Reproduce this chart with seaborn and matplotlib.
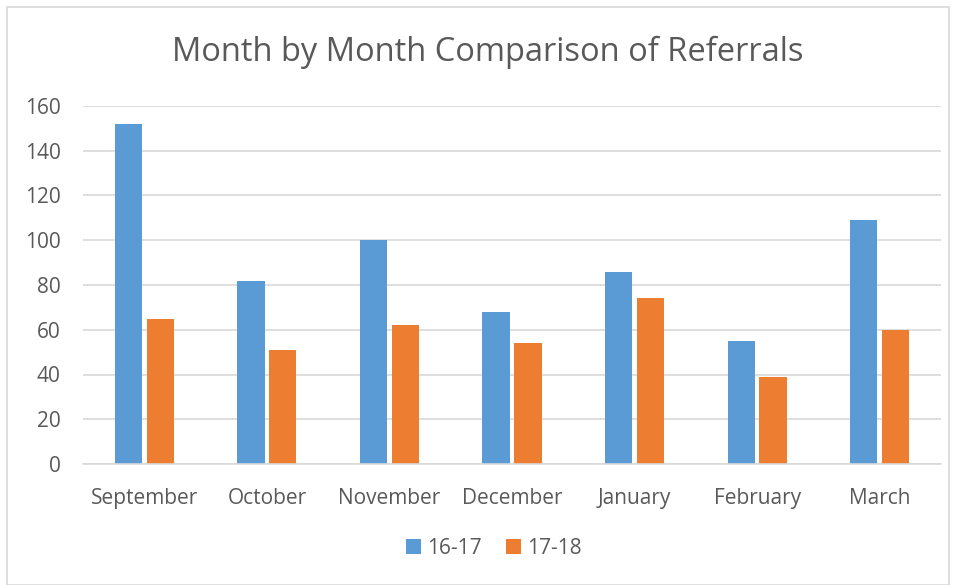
import matplotlib
matplotlib.use("Agg")
import matplotlib.pyplot as plt
import seaborn as sns
import pandas as pd
from matplotlib.patches import Rectangle

months = ["September", "October", "November", "December", "January", "February", "March"]
series_names = ["16-17", "17-18"]
values_1617 = [152, 82, 100, 68, 86, 55, 109]
values_1718 = [65, 51, 62, 54, 74, 39, 60]
y_ticks = [0, 20, 40, 60, 80, 100, 120, 140, 160]

df = pd.DataFrame({
    "Month": months * 2,
    "Season": [series_names[0]] * len(months) + [series_names[1]] * len(months),
    "Referrals": values_1617 + values_1718,
})

sns.set_theme(style="white")
plt.rcParams["font.family"] = ["Open Sans", "DejaVu Sans"]

W, H = 957, 585
fig = plt.figure(figsize=(W / 100, H / 100), dpi=100)
ax = fig.add_axes([83 / W, (H - 464) / H, (941 - 83) / W, (464 - 106) / H])

palette = {"16-17": "#5B9BD5", "17-18": "#ED7D31"}
sns.barplot(data=df, x="Month", y="Referrals", hue="Season", order=months,
            hue_order=series_names, palette=palette, width=0.52, gap=0.14,
            saturation=1, linewidth=0, ax=ax, legend=True)

ax.set_ylim(0, 160)
ax.set_yticks(y_ticks)
ax.set_xlim(-0.5, len(months) - 0.5)
ax.yaxis.grid(True, color="#D9D9D9", linewidth=1.2)
ax.set_axisbelow(True)
for s in ["top", "right", "left"]:
    ax.spines[s].set_visible(False)
ax.spines["bottom"].set_color("#D9D9D9")
ax.spines["bottom"].set_linewidth(1.2)
ax.set_xlabel("")
ax.set_ylabel("")
ax.tick_params(axis="both", length=0, labelsize=15, colors="#595959")
ax.tick_params(axis="x", pad=17)
ax.tick_params(axis="y", pad=16)

fig.text(488 / W, 1 - 52 / H, "Month by Month Comparison of Referrals",
         ha="center", va="center", fontsize=23.5, color="#595959")

handles, labels = ax.get_legend_handles_labels()
leg = ax.legend(handles, labels, loc="center", bbox_to_anchor=(494 / W, 1 - 548 / H),
                bbox_transform=fig.transFigure, ncol=2, frameon=False,
                fontsize=15, handlelength=0.7, handleheight=0.7,
                handletextpad=0.3, columnspacing=1.2)
for t in leg.get_texts():
    t.set_color("#595959")

fig.patches.append(Rectangle((7 / W, 0), (949 - 7) / W, 1 - 7 / H,
                             transform=fig.transFigure, fill=False,
                             edgecolor="#D9D9D9", linewidth=1.2))

fig.savefig("out.png", dpi=100, facecolor="white")
